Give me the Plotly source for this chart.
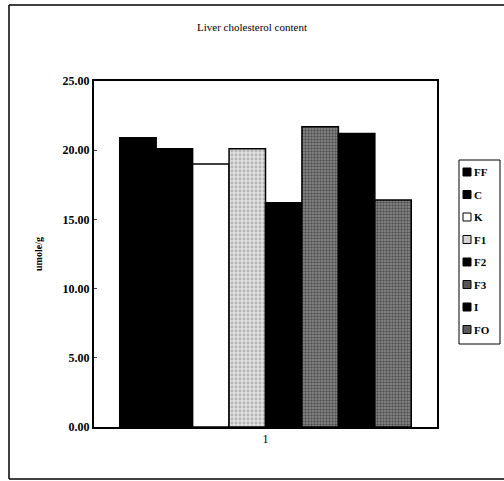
import plotly.graph_objects as go

categories = ["1"]
series_names = ["FF", "C", "K", "F1", "F2", "F3", "I", "FO"]
series_values = [20.9, 20.1, 19.0, 20.1, 16.2, 21.7, 21.2, 16.4]
y_ticks = [0, 5, 10, 15, 20, 25]

fills = {
    "FF": dict(color="#000000", pattern=None),
    "C": dict(color="#000000", pattern=None),
    "K": dict(color="#ffffff", pattern=None),
    "F1": dict(color="#d4d4d4", pattern=dict(shape=".", fgcolor="#8a8a8a", bgcolor="#e0e0e0", size=4, solidity=0.4)),
    "F2": dict(color="#000000", pattern=None),
    "F3": dict(color="#555555", pattern=dict(shape=".", fgcolor="#1a1a1a", bgcolor="#8a8a8a", size=3, solidity=0.5)),
    "I": dict(color="#000000", pattern=None),
    "FO": dict(color="#5a5a5a", pattern=dict(shape=".", fgcolor="#1a1a1a", bgcolor="#8a8a8a", size=3, solidity=0.5)),
}

W, H = 504, 481
L, R, T, B = 94, 67, 81, 54
pw, ph = W - L - R, H - T - B

fig = go.Figure()
for name, val in zip(series_names, series_values):
    f = fills[name]
    marker = dict(color=f["color"], line=dict(color="#000000", width=1.5))
    if f["pattern"]:
        marker["pattern"] = f["pattern"]
    fig.add_trace(go.Bar(name=name, x=categories, y=[val], marker=marker, showlegend=False))

def px(x):
    return (x - L) / pw

def py(y):
    return (H - B - y) / ph

font = "Liberation Serif"
fig.update_layout(
    width=W, height=H,
    margin=dict(l=L, r=R, t=T, b=B, autoexpand=False),
    paper_bgcolor="white", plot_bgcolor="white",
    barmode="group", bargap=0.15, bargroupgap=0,
    font=dict(family=font, color="black", size=11),
    title=dict(text="Liver cholesterol content", x=px(252), xref="paper", xanchor="center",
               y=1 - 27 / H, yanchor="middle", font=dict(size=11, family=font, color="black")),
    xaxis=dict(showline=True, linecolor="black", linewidth=2, mirror=True, ticks="",
               tickfont=dict(size=12, family=font, color="black"), showgrid=False),
    yaxis=dict(range=[0, 25], tickvals=y_ticks, tickformat=".2f", showline=True,
               linecolor="black", linewidth=2, mirror=True, ticks="inside", ticklen=3,
               tickfont=dict(size=12, family=font, weight="bold", color="black"), showgrid=False,
               zeroline=False,
               title=dict(text="<b>umole/g</b>", font=dict(size=10, family=font, color="black"),
                          standoff=18)),
    showlegend=False,
)

# legend drawn as a box with swatches and labels
lx0, lx1, ly0 = 459, 500, 160
row_h = 22.5
ly1 = ly0 + row_h * len(series_names) + 4
fig.add_shape(type="rect", xref="paper", yref="paper", x0=px(lx0), x1=px(lx1), y0=py(ly0), y1=py(ly1),
              line=dict(color="black", width=1), fillcolor="white")
for i, name in enumerate(series_names):
    cy = ly0 + 12 + i * row_h
    f = fills[name]
    fig.add_shape(type="rect", xref="paper", yref="paper", x0=px(463), x1=px(471), y0=py(cy - 4), y1=py(cy + 4),
                  line=dict(color="black", width=1), fillcolor=f["color"])
    fig.add_annotation(text="<b>" + name + "</b>", xref="paper", yref="paper", x=px(472), y=py(cy),
                       xanchor="left", yanchor="middle", showarrow=False,
                       font=dict(size=11, family=font, color="black"))

# outer chart frame
fig.add_shape(type="line", xref="paper", yref="paper", x0=px(9), x1=px(504), y0=py(5), y1=py(5),
              line=dict(color="black", width=1.5))
fig.add_shape(type="line", xref="paper", yref="paper", x0=px(9), x1=px(9), y0=py(5), y1=py(479),
              line=dict(color="black", width=1.5))
fig.add_shape(type="line", xref="paper", yref="paper", x0=px(9), x1=px(504), y0=py(479), y1=py(479),
              line=dict(color="black", width=1.5))

fig.write_html("out.html", config={"displayModeBar": False},
               post_script="document.body.style.margin='0';document.body.style.overflow='hidden';")
